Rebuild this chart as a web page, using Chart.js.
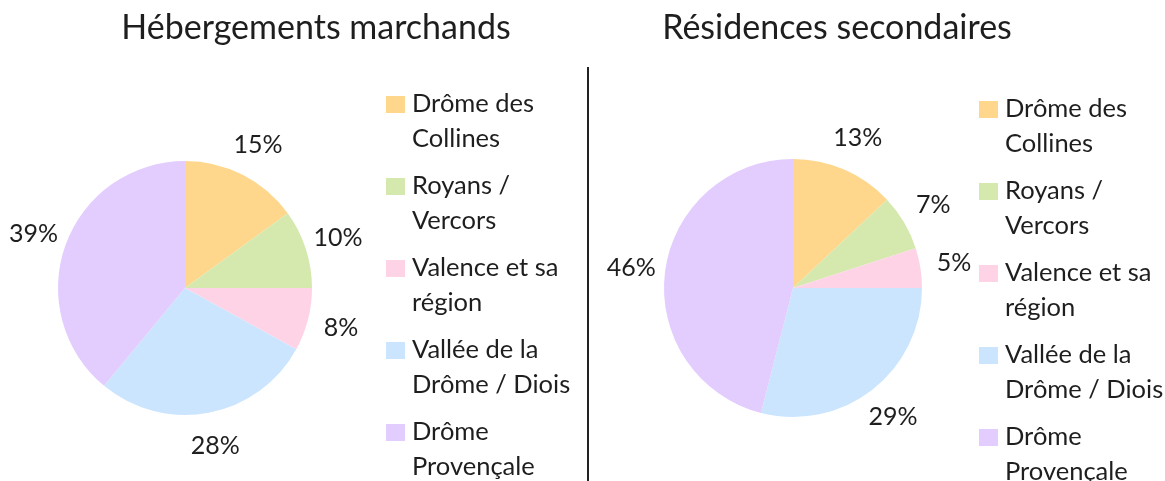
<!DOCTYPE html>
<html lang="fr">
<head>
<meta charset="UTF-8">
<title>Hébergements marchands / Résidences secondaires</title>
<script src="https://cdn.jsdelivr.net/npm/chart.js"></script>
<style>
  html, body { margin: 0; padding: 0; background: #fff; }
  .wrap { position: relative; width: 1165px; height: 481px; overflow: hidden; }
  #left { position: absolute; left: 0; top: 0; }
  #right { position: absolute; left: 589px; top: 0; }
  .divider { position: absolute; left: 587px; top: 67px; width: 1.5px; height: 414px; background: #222; }
</style>
</head>
<body>
<div class="wrap">
  <canvas id="left" width="588" height="481"></canvas>
  <div class="divider"></div>
  <canvas id="right" width="576" height="481"></canvas>
</div>

<script>
  // zones (same order in both pies)
  const zones = [
    ['Drôme des', 'Collines'],
    ['Royans /', 'Vercors'],
    ['Valence et sa', 'région'],
    ['Vallée de la', 'Drôme / Diois'],
    ['Drôme', 'Provençale']
  ]
  const zoneColors = ['#FFD78C', '#D5E9AE', '#FED3E6', '#CCE5FE', '#E3CDFE']

  // percentages
  const marchands = [15, 10, 8, 28, 39]
  const secondaires = [13, 7, 5, 29, 46]

  const FONT = 'Lato, "Noto Sans", sans-serif'
  const INK = '#1e1e1e'

  // title, percent labels and legend drawn on the canvas
  const decorPlugin = {
    id: 'decor',
    afterDraw(chart, args, opts) {
      const ctx = chart.ctx
      ctx.save()
      ctx.fillStyle = INK

      // title
      ctx.font = '34px ' + FONT
      ctx.textAlign = 'center'
      ctx.textBaseline = 'middle'
      ctx.fillText(opts.title, opts.titleX, 28)

      // percent labels outside each slice
      const meta = chart.getDatasetMeta(0)
      const values = chart.data.datasets[0].data
      ctx.font = '25px ' + FONT
      meta.data.forEach((arc, i) => {
        const p = arc.getProps(['x', 'y', 'startAngle', 'endAngle', 'outerRadius'], true)
        const mid = (p.startAngle + p.endAngle) / 2
        const d = p.outerRadius + 34
        ctx.fillText(values[i] + '%', p.x + Math.cos(mid) * d, p.y + Math.sin(mid) * d)
      })

      // legend
      ctx.textAlign = 'left'
      ctx.font = '25.5px ' + FONT
      zones.forEach((lines, i) => {
        const y0 = opts.legendY + i * 82
        ctx.fillStyle = zoneColors[i]
        ctx.fillRect(opts.legendX, y0 - 8, 19, 17)
        ctx.fillStyle = INK
        lines.forEach((t, j) => {
          ctx.fillText(t, opts.legendX + 26, y0 + j * 34.5)
        })
      })
      ctx.restore()
    }
  }

  function makePie(id, values, padding, decor) {
    return new Chart(document.getElementById(id), {
      type: 'pie',
      data: {
        labels: zones.map(z => z.join(' ')),
        datasets: [{
          data: values,
          backgroundColor: zoneColors,
          borderWidth: 0
        }]
      },
      options: {
        responsive: false,
        animation: false,
        layout: { padding: padding },
        plugins: {
          legend: { display: false },
          tooltip: { enabled: false },
          decor: decor
        }
      },
      plugins: [decorPlugin]
    })
  }

  makePie('left', marchands,
    { left: 58, right: 276, top: 161, bottom: 66 },
    { title: 'Hébergements marchands', titleX: 316, legendX: 386, legendY: 104 })

  makePie('right', secondaires,
    { left: 75, right: 243, top: 159, bottom: 64 },
    { title: 'Résidences secondaires', titleX: 248, legendX: 390, legendY: 109 })
</script>
</body>
</html>
